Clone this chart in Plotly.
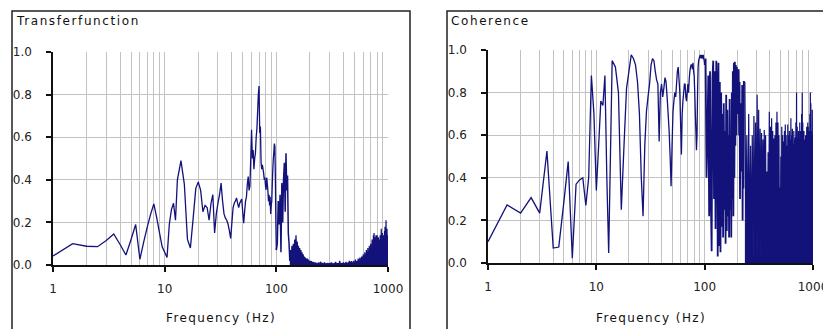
import numpy as np
import plotly.graph_objects as go

# ---------------- frequency grid (Hz) ----------------
freq_a = np.arange(1.0, 13.01, 0.5)      # 25 bins
freq_b = np.arange(14, 101, 1)           # 87 bins
freq_c = np.arange(102, 231, 2)          # 65 bins
freq_d = np.arange(235, 1001, 5)         # 154 bins

# ---------------- Transferfunction ----------------
transfer_a = [0.042, 0.100, 0.088, 0.086, 0.115, 0.146, 0.095, 0.047, 0.120, 0.190,
              0.027, 0.110, 0.180, 0.240, 0.287, 0.220, 0.150, 0.085, 0.060, 0.035,
              0.190, 0.260, 0.290, 0.210, 0.400]
transfer_b = [0.49, 0.38, 0.12, 0.08, 0.22, 0.36, 0.39,
              0.35, 0.25, 0.28, 0.27, 0.21, 0.29, 0.33, 0.15, 0.24, 0.29,
              0.33, 0.385, 0.30, 0.24, 0.22, 0.21, 0.19, 0.16, 0.125, 0.20,
              0.27, 0.29, 0.30, 0.315, 0.29, 0.27, 0.29, 0.30, 0.31, 0.25,
              0.196, 0.25, 0.30, 0.32, 0.38, 0.415, 0.35, 0.37, 0.50, 0.635,
              0.50, 0.54, 0.45, 0.50, 0.525, 0.60, 0.64, 0.72, 0.80, 0.84,
              0.62, 0.65, 0.48, 0.45, 0.47, 0.45, 0.43, 0.40, 0.41, 0.37,
              0.353, 0.41, 0.38, 0.35, 0.30, 0.33, 0.28, 0.32, 0.24, 0.28,
              0.30, 0.38, 0.45, 0.50, 0.53, 0.57, 0.557, 0.42, 0.20, 0.07]
transfer_c = [0.10, 0.30, 0.19, 0.33, 0.06, 0.385, 0.20, 0.40, 0.48, 0.25,
              0.525, 0.35, 0.42, 0.15, 0.10, 0.02, 0.07, 0.03, 0.09, 0.04,
              0.10, 0.03, 0.12, 0.05, 0.14, 0.04, 0.11, 0.03, 0.09, 0.02,
              0.08, 0.02, 0.07, 0.01, 0.06, 0.01, 0.05, 0.01, 0.04, 0.005,
              0.035, 0.005, 0.03, 0.005, 0.03, 0.0, 0.025, 0.0, 0.02, 0.0,
              0.02, 0.0, 0.018, 0.0, 0.015, 0.0, 0.015, 0.0, 0.012, 0.0,
              0.012, 0.0, 0.01, 0.0, 0.01]
transfer_d = [0.0, 0.012, 0.0, 0.015, 0.0, 0.01, 0.0, 0.012, 0.0, 0.008,
              0.0, 0.01, 0.0, 0.008, 0.0, 0.012, 0.0, 0.006, 0.0, 0.01,
              0.0, 0.015, 0.0, 0.008, 0.0, 0.01, 0.0, 0.02, 0.0, 0.008,
              0.0, 0.01, 0.0, 0.012, 0.0, 0.008, 0.0, 0.015, 0.0, 0.01,
              0.0, 0.012, 0.0, 0.02, 0.005, 0.015, 0.0, 0.018, 0.005, 0.012,
              0.005, 0.02, 0.0, 0.015, 0.005, 0.025, 0.005, 0.02, 0.0, 0.018,
              0.005, 0.03, 0.008, 0.025, 0.005, 0.035, 0.01, 0.03, 0.008, 0.04,
              0.01, 0.04, 0.012, 0.05, 0.01, 0.045, 0.015, 0.06, 0.012, 0.05,
              0.015, 0.07, 0.02, 0.06, 0.015, 0.08, 0.02, 0.065, 0.025, 0.09,
              0.02, 0.08, 0.03, 0.10, 0.025, 0.09, 0.03, 0.12, 0.035, 0.10,
              0.03, 0.14, 0.04, 0.15, 0.035, 0.11, 0.04, 0.13, 0.045, 0.14,
              0.04, 0.12, 0.05, 0.14, 0.045, 0.10, 0.05, 0.13, 0.04, 0.12,
              0.05, 0.11, 0.045, 0.14, 0.05, 0.12, 0.055, 0.17, 0.05, 0.13,
              0.055, 0.15, 0.05, 0.12, 0.06, 0.14, 0.05, 0.13, 0.06, 0.16,
              0.05, 0.18, 0.06, 0.14, 0.055, 0.21, 0.06, 0.15, 0.05, 0.17,
              0.06, 0.14, 0.05, 0.12]

# ---------------- Coherence ----------------
coherence_a = [0.10, 0.273, 0.234, 0.307, 0.234, 0.526, 0.07, 0.075, 0.28, 0.476,
               0.023, 0.37, 0.39, 0.40, 0.27, 0.40, 0.88, 0.70, 0.34, 0.55,
               0.76, 0.74, 0.88, 0.40, 0.047]
coherence_b = [0.95, 0.92, 0.80, 0.25, 0.55, 0.82, 0.90,
               0.977, 0.96, 0.93, 0.85, 0.70, 0.40, 0.22, 0.55, 0.71, 0.78,
               0.84, 0.93, 0.96, 0.95, 0.90, 0.86, 0.84, 0.57, 0.80, 0.84,
               0.78, 0.82, 0.87, 0.85, 0.78, 0.70, 0.62, 0.50, 0.36, 0.55,
               0.71, 0.76, 0.80, 0.78, 0.84, 0.90, 0.92, 0.86, 0.80, 0.65,
               0.51, 0.70, 0.76, 0.80, 0.84, 0.84, 0.78, 0.76, 0.80, 0.84,
               0.80, 0.86, 0.90, 0.92, 0.93, 0.93, 0.91, 0.94, 0.90, 0.88,
               0.80, 0.70, 0.62, 0.53, 0.60, 0.80, 0.92, 0.95, 0.96, 0.97,
               0.977, 0.97, 0.96, 0.977, 0.97, 0.96, 0.977, 0.96, 0.95, 0.93]
coherence_c = [0.96, 0.40, 0.59, 0.88, 0.22, 0.90, 0.30, 0.055, 0.87, 0.95,
               0.30, 0.90, 0.16, 0.95, 0.82, 0.03, 0.94, 0.08, 0.85, 0.05,
               0.80, 0.17, 0.70, 0.12, 0.75, 0.25, 0.62, 0.09, 0.79, 0.15,
               0.72, 0.22, 0.60, 0.12, 0.77, 0.25, 0.55, 0.12, 0.80, 0.30,
               0.90, 0.22, 0.94, 0.40, 0.945, 0.55, 0.93, 0.60, 0.92, 0.70,
               0.91, 0.80, 0.91, 0.60, 0.85, 0.30, 0.75, 0.43, 0.60, 0.43,
               0.836, 0.20, 0.80, 0.35, 0.85]
coherence_d = [0.85, 0.09, 0.60, 0.02, 0.70, 0.0, 0.55, 0.03, 0.60, 0.01,
               0.69, 0.0, 0.66, 0.02, 0.79, 0.0, 0.72, 0.04, 0.63, 0.01,
               0.61, 0.0, 0.58, 0.02, 0.625, 0.0, 0.60, 0.03, 0.43, 0.0,
               0.52, 0.02, 0.71, 0.0, 0.64, 0.01, 0.68, 0.0, 0.62, 0.03,
               0.585, 0.0, 0.60, 0.02, 0.66, 0.0, 0.71, 0.01, 0.66, 0.0,
               0.60, 0.03, 0.355, 0.0, 0.50, 0.02, 0.64, 0.0, 0.60, 0.01,
               0.57, 0.0, 0.62, 0.04, 0.65, 0.0, 0.60, 0.02, 0.55, 0.0,
               0.65, 0.01, 0.60, 0.0, 0.62, 0.03, 0.58, 0.0, 0.68, 0.02,
               0.60, 0.0, 0.63, 0.01, 0.56, 0.0, 0.62, 0.03, 0.58, 0.0,
               0.59, 0.02, 0.66, 0.0, 0.80, 0.01, 0.64, 0.0, 0.58, 0.03,
               0.62, 0.0, 0.57, 0.02, 0.66, 0.0, 0.62, 0.01, 0.60, 0.0,
               0.70, 0.03, 0.80, 0.0, 0.66, 0.02, 0.58, 0.0, 0.62, 0.01,
               0.56, 0.0, 0.58, 0.03, 0.60, 0.0, 0.55, 0.02, 0.64, 0.0,
               0.62, 0.01, 0.66, 0.0, 0.64, 0.03, 0.60, 0.0, 0.62, 0.02,
               0.70, 0.0, 0.80, 0.01, 0.75, 0.0, 0.62, 0.03, 0.58, 0.0,
               0.72, 0.02, 0.60, 0.52]

# ---------------- axis labels ----------------
panel_titles = ["Transferfunction", "Coherence"]
x_title = "Frequency (Hz)"
x_tickvals = [1, 10, 100, 1000]
x_ticktext = ["1", "10", "100", "1000"]
y_tickvals = [0.0, 0.2, 0.4, 0.6, 0.8, 1.0]
y_ticktext = ["0.0", "0.2", "0.4", "0.6", "0.8", "1.0"]
minor_vals = [m * 10 ** d for d in range(3) for m in range(2, 10)]

freq = np.concatenate([freq_a, freq_b, freq_c, freq_d])
transfer = np.concatenate([transfer_a, transfer_b, transfer_c, transfer_d])
coherence = np.concatenate([coherence_a, coherence_b, coherence_c, coherence_d])
assert len(freq) == len(transfer) == len(coherence), (len(freq), len(transfer), len(coherence))

W, H = 823, 329
LINE = "#12127a"
GRID = "#c2c2c2"
AX = "#111111"
FONT = "DejaVu Sans"

def px(x):
    return x / W

def py(y):
    return 1 - y / H

# (series, axes, start of the unresolved dense band in Hz, stroke of the mid band)
panels = [(transfer, "x", "y", 132, 1.5), (coherence, "x2", "y2", 235, 1.8)]

fig = go.Figure()
for series, xa, ya, dense_from, w_mid in panels:
    m_lo = freq <= 100
    m_mid = (freq >= 100) & (freq <= dense_from)
    m_hi = freq >= dense_from
    fig.add_trace(go.Scatter(x=freq[m_lo], y=series[m_lo], mode="lines",
                             line=dict(color=LINE, width=1.3, simplify=False),
                             xaxis=xa, yaxis=ya, showlegend=False))
    fig.add_trace(go.Scatter(x=freq[m_mid], y=series[m_mid], mode="lines",
                             line=dict(color=LINE, width=w_mid, simplify=False),
                             xaxis=xa, yaxis=ya, showlegend=False))
    fig.add_trace(go.Scatter(x=freq[m_hi], y=series[m_hi], mode="lines",
                             line=dict(color=LINE, width=1.2, simplify=False),
                             fill="tozeroy", fillcolor=LINE,
                             xaxis=xa, yaxis=ya, showlegend=False))

def xaxis_cfg(dom, anchor):
    return dict(type="log", range=[0, 3], domain=dom, anchor=anchor,
                automargin=False, ticklabeloverflow="allow",
                showline=True, linecolor=AX, linewidth=1.5,
                ticks="outside", ticklen=5, tickwidth=1.5, tickcolor=AX,
                tickmode="array", tickvals=x_tickvals, ticktext=x_ticktext,
                showgrid=True, gridcolor=GRID, gridwidth=1, zeroline=False,
                minor=dict(tickmode="array", tickvals=minor_vals, showgrid=True,
                           gridcolor=GRID, gridwidth=1, ticks=""),
                tickfont=dict(family=FONT, size=12, color="#222"),
                ticklabelstandoff=7, fixedrange=True)

def yaxis_cfg(dom, anchor):
    return dict(range=[0, 1], domain=dom, anchor=anchor,
                automargin=False, ticklabeloverflow="allow",
                showline=True, linecolor=AX, linewidth=1.5,
                ticks="outside", ticklen=5, tickwidth=1.5, tickcolor=AX,
                tickmode="array", tickvals=y_tickvals, ticktext=y_ticktext,
                showgrid=True, gridcolor=GRID, gridwidth=1, zeroline=False,
                tickfont=dict(family=FONT, size=12, color="#222"),
                ticklabelstandoff=12, fixedrange=True)

L = dict(x0=53, x1=388, top=52, bot=265)
R = dict(x0=488, x1=813, top=50, bot=263)

fig.update_layout(
    template="none",
    width=W, height=H, margin=dict(l=0, r=0, t=0, b=0, autoexpand=False),
    paper_bgcolor="white", plot_bgcolor="white",
    xaxis=xaxis_cfg([px(L["x0"]), px(L["x1"])], "y"),
    yaxis=yaxis_cfg([py(L["bot"]), py(L["top"])], "x"),
    xaxis2=xaxis_cfg([px(R["x0"]), px(R["x1"])], "y2"),
    yaxis2=yaxis_cfg([py(R["bot"]), py(R["top"])], "x2"),
)

# panel frames
for x0, x1 in [(12, 410), (447, 840)]:
    fig.add_shape(type="rect", xref="paper", yref="paper",
                  x0=px(x0), x1=px(x1), y0=-0.2, y1=py(11),
                  line=dict(color="#222", width=1.5), fillcolor="rgba(0,0,0,0)",
                  layer="below")

# panel titles
for title, x in zip(panel_titles, [14, 449]):
    fig.add_annotation(text='<span style="letter-spacing:1.6px">%s</span>' % title,
                       xref="paper", yref="paper", x=px(x), y=py(21),
                       xanchor="left", yanchor="middle", showarrow=False,
                       font=dict(family=FONT, size=12, color="#111"))

# x axis titles
for p in (L, R):
    fig.add_annotation(text='<span style="letter-spacing:1.4px">%s</span>' % x_title,
                       xref="paper", yref="paper",
                       x=px((p["x0"] + p["x1"]) / 2), y=py(318),
                       xanchor="center", yanchor="middle", showarrow=False,
                       font=dict(family=FONT, size=12, color="#111"))

fig.write_html("out.html", config={"displayModeBar": False},
               post_script="document.body.style.margin='0';document.body.style.overflow='hidden';")
